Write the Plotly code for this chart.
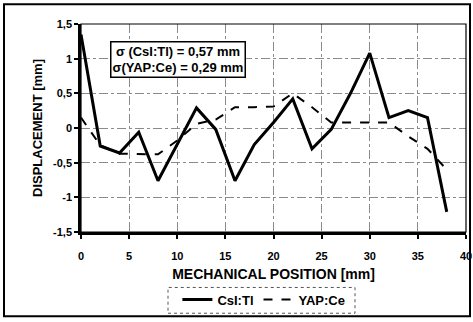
import plotly.graph_objects as go

positions = [0, 2, 4, 6, 8, 10, 12, 14, 16, 18, 20, 22, 24, 26, 28, 30, 32, 34, 36, 38]
csi_tl = [1.35, -0.26, -0.36, -0.06, -0.76, -0.24, 0.29, -0.02, -0.76, -0.24, 0.08, 0.42, -0.3, -0.02, 0.5, 1.08, 0.15, 0.25, 0.15, -1.21]
yap_ce = [0.15, -0.25, -0.37, -0.38, -0.38, -0.18, 0.06, 0.12, 0.3, 0.3, 0.31, 0.5, 0.3, 0.08, 0.08, 0.08, 0.08, -0.12, -0.3, -0.6]

y_ticks = [-1.5, -1, -0.5, 0, 0.5, 1, 1.5]
y_tick_labels = ["-1,5", "-1", "-0,5", "0", "0,5", "1", "1,5"]
x_ticks = [0, 5, 10, 15, 20, 25, 30, 35, 40]
x_tick_labels = ["0", "5", "10", "15", "20", "25", "30", "35", "40"]

FONT = "Arial, Liberation Sans, sans-serif"

fig = go.Figure()
fig.add_trace(go.Scatter(x=positions, y=csi_tl, mode="lines", name="<b>CsI:Tl</b>",
                         line=dict(color="black", width=3)))
fig.add_trace(go.Scatter(x=positions, y=yap_ce, mode="lines", name="<b>YAP:Ce</b>",
                         line=dict(color="black", width=2, dash="dash")))

fig.update_layout(
    width=473, height=322,
    margin=dict(l=81, r=7, t=24, b=88),
    paper_bgcolor="white", plot_bgcolor="white",
    font=dict(family=FONT, size=11, color="black"),
    showlegend=True,
    legend=dict(orientation="h", x=0.475, y=-0.325, xanchor="center", yanchor="middle",
                font=dict(size=13, family=FONT), bgcolor="rgba(0,0,0,0)",
                tracegroupgap=0),
    xaxis=dict(range=[0, 40], tickvals=x_ticks, ticktext=["<b>%s</b>" % t for t in x_tick_labels],
               showgrid=True, gridcolor="#8a8a8a", griddash="dashdot", gridwidth=1,
               showline=True, linecolor="black", linewidth=2.5, mirror=False,
               ticks="outside", ticklen=4, tickwidth=2, tickcolor="black", zeroline=False,
               ticklabelstandoff=8, automargin=False,
               title=dict(text="<b>MECHANICAL POSITION [mm]</b>", font=dict(size=14), standoff=9),
               tickfont=dict(size=11)),
    yaxis=dict(range=[-1.5, 1.5], tickvals=y_ticks, ticktext=["<b>%s</b>" % t for t in y_tick_labels],
               showgrid=True, gridcolor="#8a8a8a", griddash="dashdot", gridwidth=1,
               showline=True, linecolor="black", linewidth=2.5, mirror=False,
               ticks="outside", ticklen=4, tickwidth=2, tickcolor="black", zeroline=False,
               automargin=False,
               title=dict(text="<b>DISPLACEMENT [mm]</b>", font=dict(size=13), standoff=8),
               tickfont=dict(size=11)),
)

# thin top/right plot frame
fig.add_shape(type="rect", xref="paper", yref="paper", x0=0, x1=1, y0=0, y1=1,
              line=dict(color="black", width=1.2))
# outer frame
fig.add_shape(type="rect", xref="paper", yref="paper",
              x0=(4 - 81) / 385, x1=(470 - 81) / 385, y0=(234 - 319) / 210, y1=(234 - 4) / 210,
              line=dict(color="black", width=2), layer="below")
# legend box
fig.add_shape(type="rect", xref="paper", yref="paper",
              x0=(168 - 81) / 385, x1=(355 - 81) / 385, y0=(234 - 316) / 210, y1=(234 - 290) / 210,
              line=dict(color="#555555", width=1, dash="dot"))

fig.add_annotation(x=10.1, y=0.99, xref="x", yref="y",
                   text="<b>σ (CsI:Tl) = 0,57 mm</b><br><b>σ(YAP:Ce) = 0,29 mm</b>",
                   showarrow=False, align="center", font=dict(size=13, family=FONT),
                   bgcolor="white", bordercolor="black", borderwidth=1.5, borderpad=1)

fig.write_html("out.html", config={"displayModeBar": False, "responsive": False},
               post_script="document.body.style.margin='0px';document.body.style.overflow='hidden';")
